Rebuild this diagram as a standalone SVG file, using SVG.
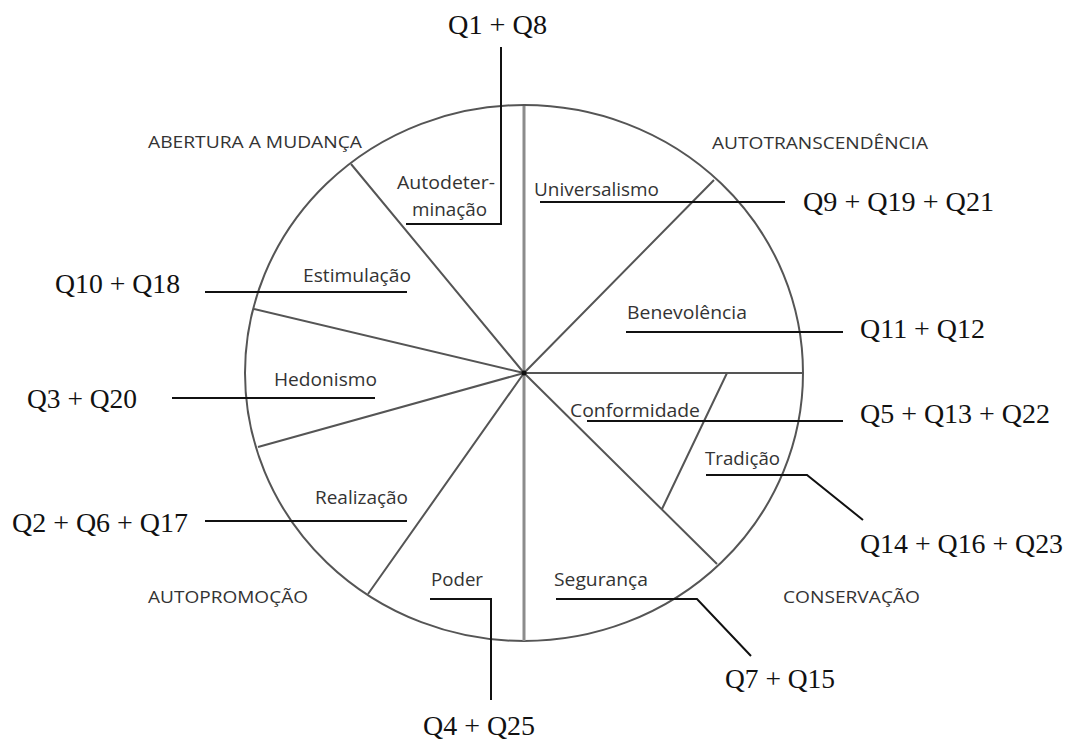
<svg xmlns="http://www.w3.org/2000/svg" width="1067" height="740" viewBox="0 0 1067 740">
<style>
.wheel{fill:none;stroke:#555;stroke-width:2}
.axis{fill:none;stroke:#8c8c8c;stroke-width:3}
.lead{fill:none;stroke:#111;stroke-width:2}
.sec{font-family:"Open Sans","Liberation Sans",sans-serif;font-size:19px;fill:#333}
.grp{font-family:"Open Sans","Liberation Sans",sans-serif;font-size:17px;fill:#333}
.q{font-family:"Liberation Serif","Times New Roman",serif;font-size:28px;fill:#111}
</style>
<rect width="1067" height="740" fill="#fff"/>
<g id="wheel">
<ellipse class="wheel" cx="524" cy="373" rx="279" ry="268"/>
<line class="axis" x1="524" y1="106" x2="524" y2="641"/>
<path class="wheel" d="M524,373 L351,164 M524,373 L714,180 M524,373 L803,373 M524,373 L254,309 M524,373 L258,447 M524,373 L368,594 M524,373 L717,564 M727,373 L662,509"/>
<circle cx="524" cy="373" r="2.5" fill="#111"/>
</g>
<g id="groups">
<text class="grp" x="148" y="148" textLength="214" lengthAdjust="spacingAndGlyphs">ABERTURA A MUDANÇA</text>
<text class="grp" x="712" y="149" textLength="216" lengthAdjust="spacingAndGlyphs">AUTOTRANSCENDÊNCIA</text>
<text class="grp" x="783" y="603" textLength="137" lengthAdjust="spacingAndGlyphs">CONSERVAÇÃO</text>
<text class="grp" x="148" y="603" textLength="160" lengthAdjust="spacingAndGlyphs">AUTOPROMOÇÃO</text>
</g>
<g id="autodeterminacao">
<text class="sec" x="397" y="189" textLength="98" lengthAdjust="spacingAndGlyphs">Autodeter-</text>
<text class="sec" x="412" y="216" textLength="75" lengthAdjust="spacingAndGlyphs">minação</text>
<text class="q" x="448" y="34" textLength="99" lengthAdjust="spacingAndGlyphs">Q1 + Q8</text>
</g>
<g id="universalismo">
<text class="sec" x="534" y="196" textLength="125" lengthAdjust="spacingAndGlyphs">Universalismo</text>
<text class="q" x="803" y="211" textLength="191" lengthAdjust="spacingAndGlyphs">Q9 + Q19 + Q21</text>
</g>
<g id="benevolencia">
<text class="sec" x="627" y="319" textLength="120" lengthAdjust="spacingAndGlyphs">Benevolência</text>
<text class="q" x="860" y="338" textLength="125" lengthAdjust="spacingAndGlyphs">Q11 + Q12</text>
</g>
<g id="conformidade">
<text class="sec" x="570" y="417" textLength="130" lengthAdjust="spacingAndGlyphs">Conformidade</text>
<text class="q" x="860" y="423" textLength="190" lengthAdjust="spacingAndGlyphs">Q5 + Q13 + Q22</text>
</g>
<g id="tradicao">
<text class="sec" x="705" y="465" textLength="75" lengthAdjust="spacingAndGlyphs">Tradição</text>
<text class="q" x="860" y="553" textLength="203" lengthAdjust="spacingAndGlyphs">Q14 + Q16 + Q23</text>
</g>
<g id="seguranca">
<text class="sec" x="554" y="586" textLength="94" lengthAdjust="spacingAndGlyphs">Segurança</text>
<text class="q" x="725" y="688" textLength="110" lengthAdjust="spacingAndGlyphs">Q7 + Q15</text>
</g>
<g id="poder">
<text class="sec" x="431" y="586" textLength="52" lengthAdjust="spacingAndGlyphs">Poder</text>
<text class="q" x="423" y="735" textLength="112" lengthAdjust="spacingAndGlyphs">Q4 + Q25</text>
</g>
<g id="realizacao">
<text class="sec" x="315" y="504" textLength="93" lengthAdjust="spacingAndGlyphs">Realização</text>
<text class="q" x="12" y="532" textLength="176" lengthAdjust="spacingAndGlyphs">Q2 + Q6 + Q17</text>
</g>
<g id="hedonismo">
<text class="sec" x="274" y="386" textLength="103" lengthAdjust="spacingAndGlyphs">Hedonismo</text>
<text class="q" x="27" y="408" textLength="110" lengthAdjust="spacingAndGlyphs">Q3 + Q20</text>
</g>
<g id="estimulacao">
<text class="sec" x="303" y="282" textLength="108" lengthAdjust="spacingAndGlyphs">Estimulação</text>
<text class="q" x="55" y="293" textLength="125" lengthAdjust="spacingAndGlyphs">Q10 + Q18</text>
</g>
<g id="connectors">
<path class="lead" d="M501,47 V224 H406"/>
<path class="lead" d="M540,202 H785"/>
<path class="lead" d="M626,332 H843"/>
<path class="lead" d="M587,421 H843"/>
<path class="lead" d="M706,475 H807 L863,520"/>
<path class="lead" d="M556,599 H697 L751,656"/>
<path class="lead" d="M430,599 H491 V700"/>
<path class="lead" d="M205,292 H407"/>
<path class="lead" d="M172,398 H375"/>
<path class="lead" d="M205,521 H407"/>
</g>
</svg>
